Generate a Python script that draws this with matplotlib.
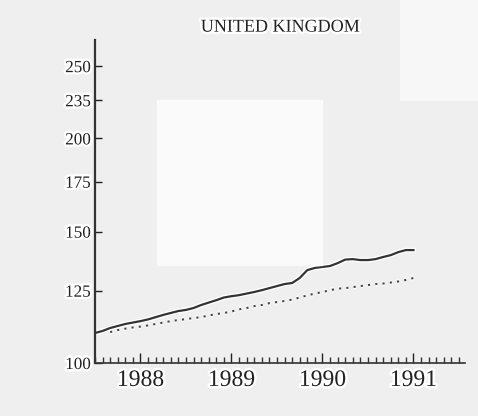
import numpy as np
import matplotlib.pyplot as plt
import matplotlib.patheffects as pe
from matplotlib.patches import Rectangle

# monthly index values, Jan 1988 onward (log scale chart)
solid_vals = [109.7, 110.4, 111.4, 112.1, 112.8, 113.3, 113.8, 114.4, 115.2, 116.0,
              116.7, 117.4, 117.8, 118.5, 119.6, 120.5, 121.4, 122.4, 122.9, 123.3,
              123.9, 124.5, 125.2, 126.0, 126.8, 127.6, 128.0, 130.0, 133.2, 134.1,
              134.5, 134.9, 136.1, 137.6, 137.8, 137.4, 137.4, 137.8, 138.7, 139.5,
              140.8, 141.7, 141.7]
dotted_vals = [110.0, 110.7, 111.2, 111.6, 111.9, 112.3, 112.8, 113.3, 113.8, 114.2,
               114.5, 114.9, 115.2, 115.8, 116.3, 116.7, 117.2, 118.0, 118.5, 119.2,
               119.6, 120.3, 120.7, 121.1, 121.6, 122.4, 123.2, 123.9, 124.5, 125.2,
               125.8, 126.0, 126.4, 126.8, 127.2, 127.6, 127.8, 128.2, 128.6, 129.2,
               130.0]
dotted_start = 2  # month offset of first dotted point

ytick_vals = [100, 125, 150, 175, 200, 225, 250]
ytick_labels = ["100", "125", "150", "175", "200", "235", "250"]
years = ["1988", "1989", "1990", "1991"]

halo = [pe.withStroke(linewidth=3.5, foreground="white")]
plt.rcParams['font.family'] = ['Liberation Serif', 'DejaVu Serif']

fig = plt.figure(figsize=(4.78, 4.16), dpi=100)
fig.patch.set_facecolor("#efefef")
# lighter scan blotches
fig.patches.append(Rectangle((157 / 478, 1 - 265 / 416), 165 / 478, 165 / 416,
                             transform=fig.transFigure, color="#fafafa", zorder=0))
fig.patches.append(Rectangle((400 / 478, 1 - 100 / 416), 78 / 478, 100 / 416,
                             transform=fig.transFigure, color="#f7f7f7", zorder=0))

ax = fig.add_axes([95 / 478, 53 / 416, 370 / 478, 323 / 416])
ax.set_facecolor("none")

x_solid = np.arange(len(solid_vals))
x_dot = np.arange(len(dotted_vals)) + dotted_start

ax.plot(x_solid, solid_vals, color="#333333", lw=1.6, path_effects=halo)
ax.plot(x_dot, dotted_vals, color="#444444", lw=1.5, linestyle=(0, (1, 2.5)),
        path_effects=halo)

ax.set_yscale("log")
ax.set_ylim(100, 271)
ax.set_xlim(0, 48.8)

ax.set_yticks(ytick_vals)
ax.set_yticklabels(ytick_labels)
ax.minorticks_off()
ax.tick_params(axis="y", direction="in", length=5, width=1, pad=3,
               labelsize=12.3, colors="#222222")

ax.set_xticks([6, 18, 30, 42])
ax.set_xticklabels(years)
ax.set_xticks(np.arange(0, 49), minor=True)
ax.tick_params(axis="x", which="major", direction="in", length=7, width=1, pad=5,
               labelsize=17, colors="#222222")
ax.tick_params(axis="x", which="minor", direction="in", length=4, width=1,
               colors="#333333")

for lab in ax.get_xticklabels() + ax.get_yticklabels():
    lab.set_path_effects(halo)

ax.spines["top"].set_visible(False)
ax.spines["right"].set_visible(False)
ax.spines["left"].set_color("#333333")
ax.spines["bottom"].set_color("#333333")
ax.spines["left"].set_linewidth(1.6)
ax.spines["bottom"].set_linewidth(1.2)

ax.set_title("UNITED KINGDOM", fontsize=13, color="#222222", pad=6,
             path_effects=halo)

fig.savefig("out.png", dpi=100, facecolor=fig.get_facecolor())
